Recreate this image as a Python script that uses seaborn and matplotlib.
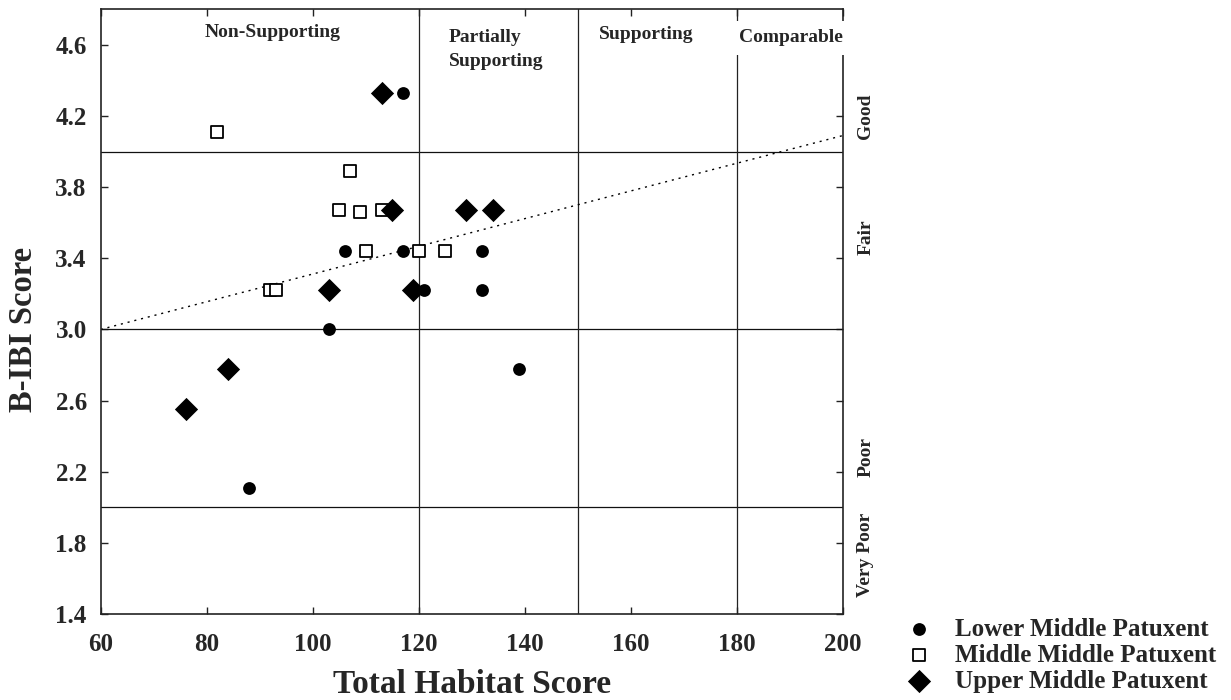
import pandas as pd
import seaborn as sns
import matplotlib.pyplot as plt

# B-IBI vs total habitat score, three Patuxent segments
lower_x = [117, 106, 117, 132, 121, 132, 103, 139, 88]
lower_y = [4.33, 3.44, 3.44, 3.44, 3.22, 3.22, 3.00, 2.78, 2.11]

middle_x = [82, 107, 105, 109, 113, 110, 120, 125, 92, 93]
middle_y = [4.11, 3.89, 3.67, 3.66, 3.67, 3.44, 3.44, 3.44, 3.22, 3.22]

upper_x = [113, 115, 129, 134, 103, 119, 84, 76]
upper_y = [4.33, 3.67, 3.67, 3.67, 3.22, 3.22, 2.78, 2.55]

trend_x = [60, 200]
trend_y = [3.0, 4.09]

bibi_cuts = [2.0, 3.0, 4.0]
habitat_cuts = [120, 150, 180]

x_ticks = [60, 80, 100, 120, 140, 160, 180, 200]
y_ticks = [1.4, 1.8, 2.2, 2.6, 3.0, 3.4, 3.8, 4.2, 4.6]

site_names = ['Lower Middle Patuxent', 'Middle Middle Patuxent', 'Upper Middle Patuxent']

lower_df = pd.DataFrame({'habitat': lower_x, 'bibi': lower_y})
middle_df = pd.DataFrame({'habitat': middle_x, 'bibi': middle_y})
upper_df = pd.DataFrame({'habitat': upper_x, 'bibi': upper_y})
trend_df = pd.DataFrame({'habitat': trend_x, 'bibi': trend_y})

sns.set_style('ticks')
plt.rcParams['font.family'] = ['Liberation Serif', 'DejaVu Serif']
plt.rcParams['font.weight'] = 'bold'
plt.rcParams['axes.labelweight'] = 'bold'

fig = plt.figure(figsize=(12.31, 7.0), dpi=100)
ax = fig.add_axes([0.0818, 0.1229, 0.6028, 0.8638])

for y in bibi_cuts:
    ax.axhline(y, color='#111111', lw=0.9, zorder=1)
for x in habitat_cuts:
    ax.axvline(x, color='#222222', lw=0.9, zorder=1)

sns.lineplot(data=trend_df, x='habitat', y='bibi', ax=ax, color='black',
             lw=1.0, linestyle=(0, (1.5, 3.5)), zorder=2)

sns.scatterplot(data=middle_df, x='habitat', y='bibi', ax=ax, marker='s',
                s=70, color='white', edgecolor='black', linewidth=1.3,
                label=site_names[1], zorder=4)
sns.scatterplot(data=lower_df, x='habitat', y='bibi', ax=ax, marker='o',
                s=85, color='black', edgecolor='black', linewidth=0,
                label=site_names[0], zorder=4)
sns.scatterplot(data=upper_df, x='habitat', y='bibi', ax=ax, marker='D',
                s=140, color='black', edgecolor='black', linewidth=0,
                label=site_names[2], zorder=5)

ax.set_xlim(60, 200)
ax.set_ylim(1.4, 4.8)
ax.set_xticks(x_ticks)
ax.set_yticks(y_ticks)
ax.set_yticklabels([f'{v:.1f}' for v in y_ticks])
ax.tick_params(direction='in', length=5, width=1, top=True, right=True,
               labelsize=18, color='#222222')
ax.tick_params(axis='x', pad=14)
ax.tick_params(axis='y', pad=10)
for sp in ax.spines.values():
    sp.set_linewidth(1.2)
    sp.set_color('#222222')

ax.set_xlabel('Total Habitat Score', fontsize=24, labelpad=9)
ax.set_ylabel('B-IBI Score', fontsize=23.5)
ax.yaxis.set_label_coords(-0.083, 0.47)

# category labels across the top
top_font = dict(fontsize=14, fontweight='bold')
ax.text(92.4, 4.67, 'Non-Supporting', ha='center', va='center', **top_font)
ax.text(125.7, 4.575, 'Partially\nSupporting', ha='left', va='center',
        linespacing=1.55, **top_font)
ax.text(163, 4.66, 'Supporting', ha='center', va='center', **top_font)
ax.text(190.3, 4.64, 'Comparable', ha='center', va='center', clip_on=False,
        bbox=dict(facecolor='white', edgecolor='none', pad=6), zorder=6, **top_font)

# condition labels on the right
side = [('Good', 4.2, True), ('Fair', 3.52, True), ('Poor', 2.28, True),
        ('Very Poor', 1.73, False)]
for name, yy, boxed in side:
    kw = dict(bbox=dict(facecolor='white', edgecolor='none', pad=8.5)) if boxed else {}
    ax.text(1.0 + 23 / 742, yy, name, transform=ax.get_yaxis_transform(),
            rotation=90, ha='center', va='center', clip_on=False, zorder=6,
            **top_font, **kw)

handles, labels = ax.get_legend_handles_labels()
order = [labels.index(n) for n in site_names]
ax.legend([handles[i] for i in order], [labels[i] for i in order],
          loc='center left', bbox_to_anchor=(1.086, -0.068), frameon=False,
          prop={'weight': 'bold', 'size': 18}, handlelength=1.0,
          handletextpad=0.95, labelspacing=0.12, borderpad=0, borderaxespad=0)

plt.savefig('out.png', dpi=100)
